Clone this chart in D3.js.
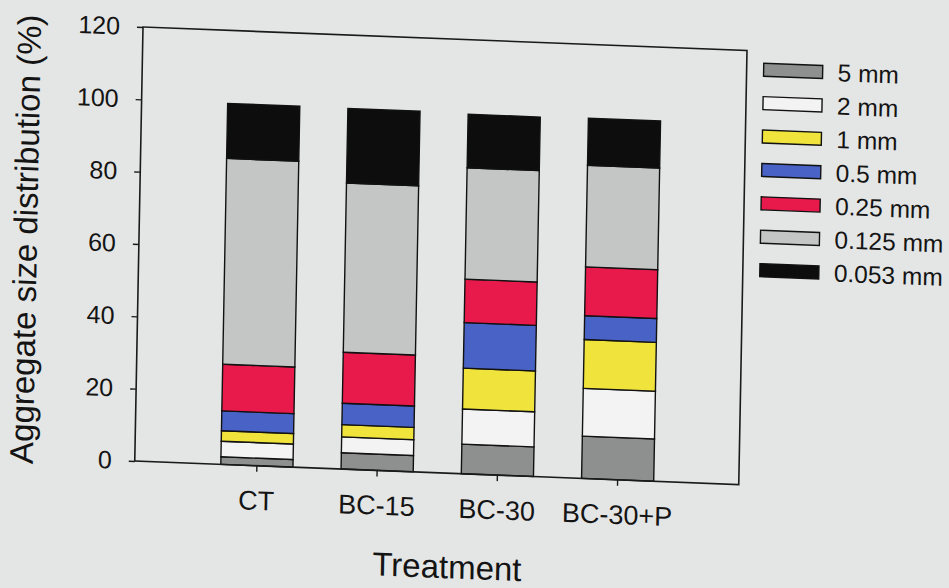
<!DOCTYPE html>
<html>
<head>
<meta charset="utf-8">
<script src="https://cdn.jsdelivr.net/npm/d3@7"></script>
<style>
  html, body { margin: 0; padding: 0; background: #e4e6e5; }
  svg { display: block; }
  text { font-family: "Liberation Sans", Arial, Helvetica, sans-serif; fill: #141414; }
</style>
</head>
<body>
<svg id="chart" width="949" height="588"></svg>
<script>
// ---- data ----
const categories = ["CT", "BC-15", "BC-30", "BC-30+P"];
const sizeClasses = ["5 mm", "2 mm", "1 mm", "0.5 mm", "0.25 mm", "0.125 mm", "0.053 mm"];
const v5mm    = [2.1, 4.5, 8.2, 11.7];
const v2mm    = [4.3, 4.4, 9.7, 13.2];
const v1mm    = [2.9, 3.4, 11.3, 13.5];
const v05mm   = [5.5, 5.9, 12.6, 6.6];
const v025mm  = [12.9, 14.1, 12.0, 13.5];
const v0125mm = [56.9, 46.8, 30.8, 28.1];
const v0053mm = [15.2, 20.6, 14.8, 13.0];
const yTicks = [0, 20, 40, 60, 80, 100, 120];
const colors = ["#8e8f8f", "#f2f3f2", "#efe33c", "#4962c5", "#e8194b", "#c4c6c6", "#0d0d0d"];

const seriesValues = [v5mm, v2mm, v1mm, v05mm, v025mm, v0125mm, v0053mm];
const table = categories.map((c, i) => {
  const row = { cat: c };
  sizeClasses.forEach((s, k) => { row[s] = seriesValues[k][i]; });
  return row;
});

// ---- layout ----
const plotW = 604, plotH = 434;
const svg = d3.select("#chart");
svg.append("rect").attr("width", 949).attr("height", 588).attr("fill", "#e4e6e5");

// the reference is a slightly tilted photograph: reproduce the tilt
const g = svg.append("g").attr("transform", "matrix(1,0.039,-0.019,1,143,27)");

const x = d3.scaleBand().domain(categories).range([62, 543]).paddingInner(0.4).paddingOuter(0.2);
const y = d3.scaleLinear().domain([0, 120]).range([plotH, 0]);
const color = d3.scaleOrdinal().domain(sizeClasses).range(colors);

const stacked = d3.stack().keys(sizeClasses)(table);

g.selectAll("g.series").data(stacked).join("g")
  .attr("class", "series")
  .attr("fill", d => color(d.key))
  .selectAll("rect").data(d => d).join("rect")
  .attr("x", d => x(d.data.cat))
  .attr("y", d => y(d[1]))
  .attr("width", x.bandwidth())
  .attr("height", d => y(d[0]) - y(d[1]))
  .attr("stroke", "#111")
  .attr("stroke-width", 1.4);

// frame
g.append("rect").attr("x", 0).attr("y", 0).attr("width", plotW).attr("height", plotH)
  .attr("fill", "none").attr("stroke", "#1a1a1a").attr("stroke-width", 1.6);

// y axis
const ya = g.append("g").call(d3.axisLeft(y).tickValues(yTicks).tickSize(6).tickPadding(17));
ya.select(".domain").remove();
ya.selectAll(".tick line").attr("stroke", "#1a1a1a").attr("stroke-width", 1.4);
ya.selectAll(".tick text").attr("font-size", 25).style("font-family", "'Liberation Sans', Arial, sans-serif").attr("fill", "#141414");

// x axis
const xa = g.append("g").attr("transform", `translate(0,${plotH})`)
  .call(d3.axisBottom(x).tickSize(6).tickPadding(19));
xa.select(".domain").remove();
xa.selectAll(".tick line").attr("stroke", "#1a1a1a").attr("stroke-width", 1.4);
xa.selectAll(".tick text").attr("font-size", 27).style("font-family", "'Liberation Sans', Arial, sans-serif").attr("fill", "#141414");

// axis titles
g.append("text")
  .attr("transform", "translate(-113.5,216.6) rotate(-90)")
  .attr("text-anchor", "middle").attr("dy", "0.35em")
  .attr("font-size", 33)
  .text("Aggregate size distribution (%)");

g.append("text")
  .attr("x", 314).attr("y", 539)
  .attr("text-anchor", "middle")
  .attr("font-size", 33)
  .text("Treatment");

// legend
const leg = g.append("g").attr("transform", "translate(621,12)");
const li = leg.selectAll("g").data(sizeClasses).join("g")
  .attr("transform", (d, i) => `translate(0,${i * 33.4})`);
li.append("rect").attr("width", 59).attr("height", 13)
  .attr("fill", d => color(d)).attr("stroke", "#111").attr("stroke-width", 1.4);
li.append("text").attr("x", 74).attr("y", 6.5).attr("dy", "0.35em")
  .attr("font-size", 24.5).text(d => d);
</script>
</body>
</html>
